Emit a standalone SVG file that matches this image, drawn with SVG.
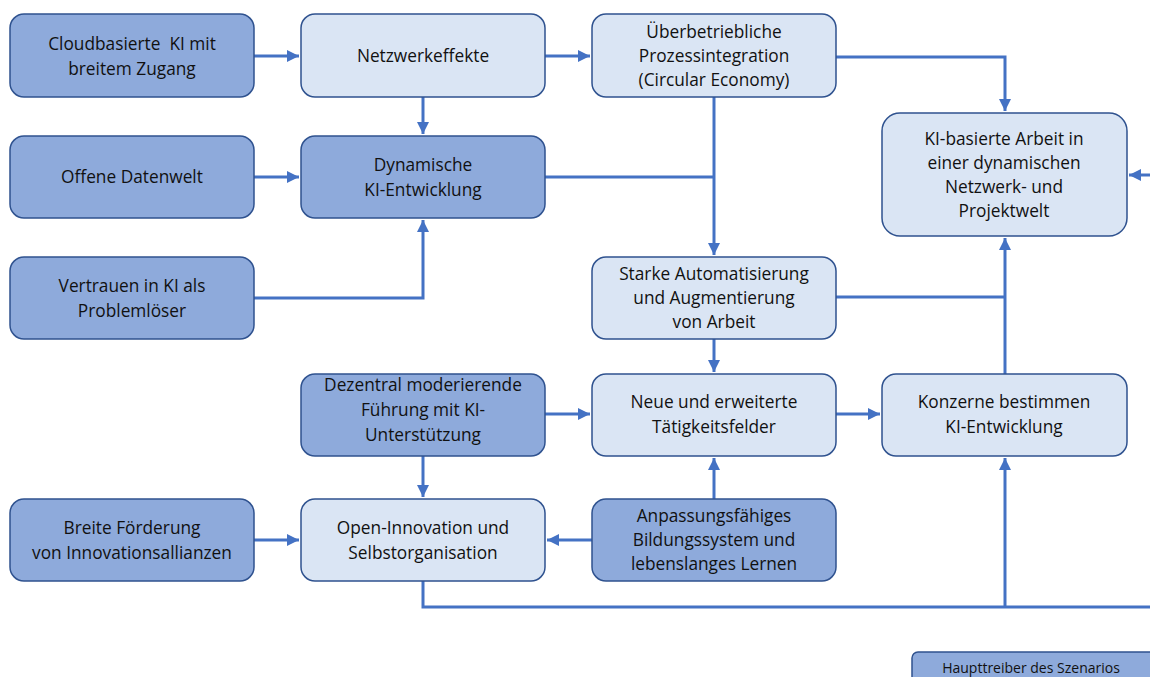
<svg xmlns="http://www.w3.org/2000/svg" width="1150" height="677" viewBox="0 0 1150 677">
  <defs>
    <marker id="arr" viewBox="0 0 10 10" refX="10" refY="5" markerWidth="4" markerHeight="4" orient="auto-start-reverse" markerUnits="strokeWidth">
      <path d="M0,0 L10,5 L0,10 z" fill="#4472c4"/>
    </marker>
    <style>
      .drv { fill: #8eaadb; stroke: #2f528f; stroke-width: 1.5; }
      .eff { fill: #dae5f4; stroke: #2f528f; stroke-width: 1.5; }
      .lbl { font-family: "Open Sans", "Noto Sans", "Liberation Sans", sans-serif; font-size: 17.3px; fill: #111111; text-anchor: middle; }
      .leg { font-family: "Open Sans", "Noto Sans", "Liberation Sans", sans-serif; font-size: 14px; fill: #111111; text-anchor: middle; }
      .con { fill: none; stroke: #4472c4; stroke-width: 3; }
      .arw { marker-end: url(#arr); }
    </style>
  </defs>
  <rect width="1150" height="677" fill="#ffffff"/>

  <!-- connectors -->
  <g id="connectors">
    <path class="con arw" d="M254,56 H299"/>
    <path class="con arw" d="M545,56 H590"/>
    <path class="con arw" d="M423,97 V134"/>
    <path class="con arw" d="M254,177 H299"/>
    <path class="con arw" d="M254,298 H423 V220"/>
    <path class="con" d="M545,177 H714"/>
    <path class="con arw" d="M714,97 V255"/>
    <path class="con arw" d="M836,57 H1005 V111"/>
    <path class="con" d="M836,297 H1005"/>
    <path class="con arw" d="M1005,374 V238"/>
    <path class="con arw" d="M714,339 V372"/>
    <path class="con arw" d="M545,414 H590"/>
    <path class="con arw" d="M836,414 H880"/>
    <path class="con arw" d="M423,456 V497"/>
    <path class="con arw" d="M254,540 H299"/>
    <path class="con arw" d="M592,540 H547"/>
    <path class="con arw" d="M714,499 V458"/>
    <path class="con" d="M423,581 V607 H1160"/>
    <path class="con arw" d="M1005,607 V458"/>
    <path class="con arw" d="M1160,175 H1129"/>
  </g>

  <!-- column 1: drivers -->
  <g id="n-cloud">
    <rect class="drv" x="10" y="14" width="244" height="83" rx="14"/>
    <text class="lbl" x="132" y="50" xml:space="preserve">Cloudbasierte  KI mit</text>
    <text class="lbl" x="132" y="75">breitem Zugang</text>
  </g>
  <g id="n-offene">
    <rect class="drv" x="10" y="136" width="244" height="82" rx="14"/>
    <text class="lbl" x="132" y="183">Offene Datenwelt</text>
  </g>
  <g id="n-vertrauen">
    <rect class="drv" x="10" y="257" width="244" height="82" rx="14"/>
    <text class="lbl" x="132" y="292">Vertrauen in KI als</text>
    <text class="lbl" x="132" y="317">Problemlöser</text>
  </g>
  <g id="n-foerderung">
    <rect class="drv" x="10" y="499" width="244" height="82" rx="14"/>
    <text class="lbl" x="132" y="534">Breite Förderung</text>
    <text class="lbl" x="132" y="559">von Innovationsallianzen</text>
  </g>

  <!-- column 2 -->
  <g id="n-netzwerk">
    <rect class="eff" x="301" y="14" width="244" height="83" rx="14"/>
    <text class="lbl" x="423" y="62">Netzwerkeffekte</text>
  </g>
  <g id="n-dynamisch">
    <rect class="drv" x="301" y="136" width="244" height="82" rx="14"/>
    <text class="lbl" x="423" y="171">Dynamische</text>
    <text class="lbl" x="423" y="196">KI-Entwicklung</text>
  </g>
  <g id="n-dezentral">
    <rect class="drv" x="301" y="374" width="244" height="82" rx="14"/>
    <text class="lbl" x="423" y="391">Dezentral moderierende</text>
    <text class="lbl" x="423" y="416">Führung mit KI-</text>
    <text class="lbl" x="423" y="441">Unterstützung</text>
  </g>
  <g id="n-openinno">
    <rect class="eff" x="301" y="499" width="244" height="82" rx="14"/>
    <text class="lbl" x="423" y="534">Open-Innovation und</text>
    <text class="lbl" x="423" y="559">Selbstorganisation</text>
  </g>

  <!-- column 3 -->
  <g id="n-prozess">
    <rect class="eff" x="592" y="14" width="244" height="83" rx="14"/>
    <text class="lbl" x="714" y="38">Überbetriebliche</text>
    <text class="lbl" x="714" y="62">Prozessintegration</text>
    <text class="lbl" x="714" y="86">(Circular Economy)</text>
  </g>
  <g id="n-automatisierung">
    <rect class="eff" x="592" y="257" width="244" height="82" rx="14"/>
    <text class="lbl" x="714" y="280">Starke Automatisierung</text>
    <text class="lbl" x="714" y="304">und Augmentierung</text>
    <text class="lbl" x="714" y="328">von Arbeit</text>
  </g>
  <g id="n-taetigkeit">
    <rect class="eff" x="592" y="374" width="244" height="82" rx="14"/>
    <text class="lbl" x="714" y="408">Neue und erweiterte</text>
    <text class="lbl" x="714" y="433">Tätigkeitsfelder</text>
  </g>
  <g id="n-bildung">
    <rect class="drv" x="592" y="499" width="244" height="82" rx="14"/>
    <text class="lbl" x="714" y="522">Anpassungsfähiges</text>
    <text class="lbl" x="714" y="546">Bildungssystem und</text>
    <text class="lbl" x="714" y="570">lebenslanges Lernen</text>
  </g>

  <!-- column 4 -->
  <g id="n-arbeit">
    <rect class="eff" x="882" y="113" width="245" height="123" rx="18"/>
    <text class="lbl" x="1004" y="145">KI-basierte Arbeit in</text>
    <text class="lbl" x="1004" y="169">einer dynamischen</text>
    <text class="lbl" x="1004" y="193">Netzwerk- und</text>
    <text class="lbl" x="1004" y="217">Projektwelt</text>
  </g>
  <g id="n-konzerne">
    <rect class="eff" x="882" y="374" width="245" height="82" rx="14"/>
    <text class="lbl" x="1004" y="408">Konzerne bestimmen</text>
    <text class="lbl" x="1004" y="433">KI-Entwicklung</text>
  </g>

  <!-- legend -->
  <g id="legend">
    <rect class="drv" x="912" y="652" width="250" height="40" rx="6"/>
    <text class="leg" x="1031" y="673">Haupttreiber des Szenarios</text>
  </g>
</svg>
